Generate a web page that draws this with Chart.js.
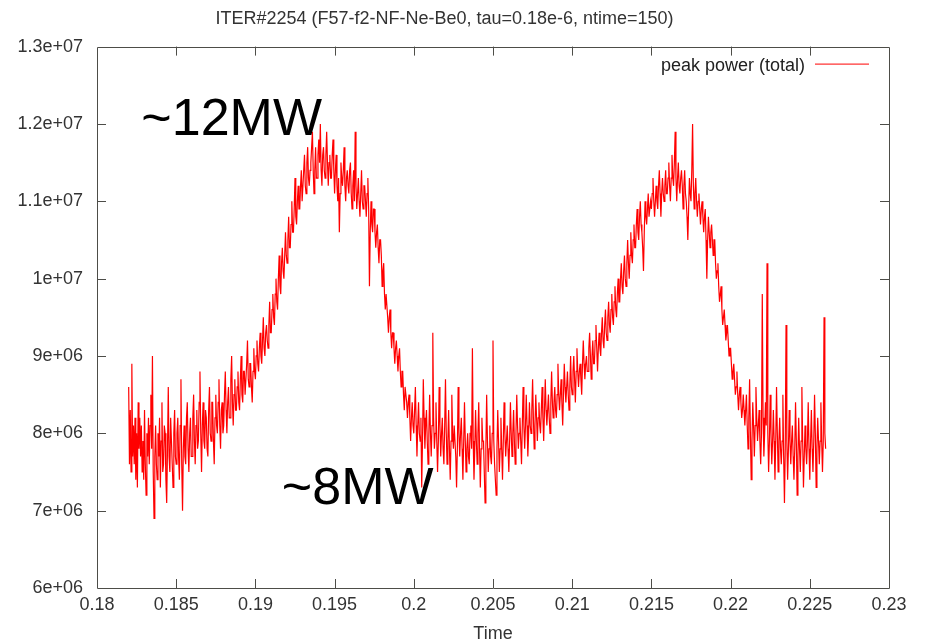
<!DOCTYPE html>
<html>
<head>
<meta charset="utf-8">
<title>ITER#2254 peak power</title>
<script src="https://cdn.jsdelivr.net/npm/chart.js@4.4.1/dist/chart.umd.min.js"></script>
<style>
    html, body { margin: 0; padding: 0; background: #ffffff; }
    #powerChart { display: block; }
</style>
</head>
<body>
<canvas id="powerChart" width="926" height="641"></canvas>
<script>
// Sampling of the trace (s)
const timeStart = 0.182;
const timeStep = 0.00005;

// Peak power (total), in MW, one row per 1 ms
const peakPowerMW = [
    8.6, 7.6, 8.3, 7.5, 8.9, 7.7, 8.1, 7.6, 8.2, 7.4, 8.0, 7.3, 8.4, 7.8, 8.2, 7.7, 8.1, 7.5, 7.9, 7.4,
    8.3, 7.6, 7.2, 8.0, 7.7, 8.2, 7.6, 8.1, 8.5, 7.8, 9.0, 7.5, 6.9, 7.7, 8.1, 7.6, 7.4, 8.0, 7.7, 8.2,
    7.3, 7.9, 8.4, 7.5, 7.6, 8.1, 8.0, 7.4, 7.1, 7.8, 8.6, 7.7, 7.5, 8.2, 7.9, 7.6, 7.3, 8.0, 8.3, 7.7,
    7.6, 8.0, 8.2, 7.7, 7.4, 8.1, 8.7, 7.6, 7.0, 7.8, 8.1, 7.7, 7.6, 8.2, 8.4, 7.8, 7.5, 8.0, 8.2, 7.7,
    7.7, 8.2, 8.5, 7.9, 7.6, 8.1, 8.3, 7.8, 7.9, 8.4, 8.8, 8.0, 7.5, 8.1, 8.4, 7.9, 7.8, 8.3, 8.2, 7.8,
    7.7, 8.3, 8.6, 8.0, 7.9, 8.4, 8.4, 7.9, 7.6, 8.2, 8.5, 8.1, 8.0, 8.4, 8.7, 8.1, 7.8, 8.3, 8.4, 8.0,
    8.1, 8.5, 8.8, 8.3, 8.0, 8.4, 8.6, 8.2, 8.2, 8.7, 9.0, 8.4, 8.1, 8.5, 8.7, 8.3, 8.3, 8.6, 8.8, 8.4,
    8.3, 8.7, 9.0, 8.5, 8.4, 8.8, 8.8, 8.5, 8.5, 8.9, 9.2, 8.7, 8.6, 8.9, 8.9, 8.6, 8.4, 8.8, 9.1, 8.8,
    8.7, 9.0, 9.2, 8.9, 8.8, 9.1, 9.3, 9.0, 8.9, 9.2, 9.5, 9.1, 9.0, 9.3, 9.4, 9.2, 9.1, 9.4, 9.7, 9.3,
    9.3, 9.6, 9.8, 9.5, 9.4, 9.8, 10.0, 9.7, 9.6, 10.0, 10.3, 9.9, 9.8, 10.2, 10.4, 10.1, 10.0, 10.3, 10.6, 10.3,
    10.2, 10.5, 10.8, 10.4, 10.4, 10.7, 11.0, 10.6, 10.6, 10.9, 11.3, 10.8, 10.7, 11.0, 11.2, 10.9, 10.9, 11.2, 11.4, 11.0,
    11.0, 11.4, 11.6, 11.2, 11.1, 11.5, 11.7, 11.3, 11.2, 11.4, 11.5, 11.7, 11.9, 11.4, 11.1, 11.4, 11.7, 11.3, 11.3, 11.6,
    11.8, 11.5, 12.0, 11.4, 11.2, 11.6, 11.7, 11.4, 11.3, 11.6, 11.9, 11.5, 11.2, 11.5, 11.6, 11.3, 11.3, 11.6, 11.8, 11.4,
    11.1, 11.4, 11.6, 11.2, 11.0, 11.3, 10.6, 11.1, 11.5, 11.3, 11.2, 11.4, 11.7, 11.2, 11.0, 11.3, 11.4, 11.2, 11.1, 11.4,
    11.5, 11.1, 10.9, 11.2, 11.4, 11.0, 11.9, 11.2, 10.9, 11.1, 11.3, 11.0, 10.8, 11.1, 11.4, 11.0, 10.9, 11.2, 11.2, 11.0,
    10.8, 11.1, 11.3, 10.9, 9.9, 10.6, 11.0, 10.7, 10.6, 10.9, 10.9, 10.6, 10.4, 10.6, 10.7, 10.4, 10.2, 10.5, 10.5, 10.3,
    9.9, 10.1, 10.2, 9.8, 9.6, 9.8, 9.8, 9.5, 9.3, 9.5, 9.6, 9.3, 9.1, 9.3, 9.3, 9.1, 8.9, 9.1, 9.2, 9.0,
    8.8, 9.0, 9.1, 8.8, 8.6, 8.8, 8.8, 8.5, 8.3, 8.6, 8.6, 8.4, 8.2, 8.4, 8.5, 8.2, 7.9, 8.2, 8.4, 8.1,
    8.0, 8.3, 8.6, 8.1, 7.7, 8.1, 8.4, 8.0, 7.9, 8.2, 7.3, 7.9, 8.7, 8.2, 7.8, 8.1, 8.3, 7.9, 7.6, 8.0,
    8.5, 8.0, 7.7, 8.1, 9.3, 8.2, 7.8, 8.0, 8.4, 7.9, 7.5, 7.9, 8.6, 8.1, 7.7, 8.0, 8.2, 7.8, 7.6, 8.1,
    8.7, 8.0, 7.6, 7.9, 8.3, 7.8, 7.4, 7.9, 8.5, 8.0, 7.8, 8.1, 8.1, 7.7, 7.3, 7.8, 8.6, 8.0, 7.7, 8.0,
    8.2, 7.8, 7.4, 7.9, 8.4, 7.9, 7.5, 7.8, 8.0, 7.7, 7.6, 8.0, 8.1, 7.8, 9.1, 7.9, 7.4, 7.8, 8.3, 7.9,
    7.6, 8.0, 8.4, 7.8, 7.3, 7.8, 8.2, 7.9, 7.9, 7.5, 7.1, 7.8, 8.5, 7.9, 7.5, 7.8, 8.1, 7.7, 7.6, 8.0,
    9.2, 7.9, 7.6, 7.4, 7.2, 7.8, 8.3, 7.9, 7.5, 7.8, 8.2, 7.8, 7.4, 7.9, 8.4, 8.0, 7.7, 7.9, 8.1, 7.8,
    7.5, 7.9, 8.4, 8.0, 7.7, 8.0, 8.3, 7.9, 7.6, 8.0, 8.5, 8.1, 7.8, 8.0, 8.2, 7.9, 7.6, 8.1, 8.6, 8.1,
    7.8, 8.1, 8.5, 8.1, 7.7, 8.0, 8.4, 8.1, 8.0, 8.3, 8.7, 8.2, 7.8, 8.1, 8.5, 8.2, 7.9, 8.2, 8.4, 8.1,
    8.0, 8.3, 8.6, 8.2, 7.9, 8.3, 8.7, 8.3, 8.1, 8.3, 8.5, 8.2, 8.0, 8.4, 8.8, 8.4, 8.2, 8.4, 8.6, 8.3,
    8.2, 8.5, 8.9, 8.5, 8.3, 8.5, 8.7, 8.4, 8.1, 8.5, 8.9, 8.6, 8.4, 8.6, 8.8, 8.5, 8.3, 8.6, 9.0, 8.6,
    8.5, 8.8, 9.0, 8.7, 8.4, 8.8, 9.1, 8.8, 8.6, 8.8, 8.9, 8.7, 8.5, 8.9, 9.2, 8.9, 8.7, 8.9, 9.0, 8.8,
    8.8, 9.1, 9.3, 9.0, 8.7, 9.0, 9.2, 8.9, 8.9, 9.2, 9.4, 9.1, 8.8, 9.1, 9.3, 9.1, 9.0, 9.3, 9.5, 9.2,
    9.1, 9.4, 9.6, 9.3, 9.2, 9.5, 9.7, 9.4, 9.3, 9.6, 9.8, 9.5, 9.4, 9.7, 9.9, 9.6, 9.5, 9.8, 10.0, 9.7,
    9.7, 10.0, 10.2, 9.9, 9.8, 10.1, 10.3, 10.0, 9.9, 10.2, 10.5, 10.2, 10.0, 10.3, 10.6, 10.3, 10.2, 10.5, 10.7, 10.4,
    10.4, 10.7, 10.9, 10.6, 10.5, 10.8, 11.0, 10.7, 10.6, 10.4, 10.1, 10.6, 11.0, 10.8, 10.7, 10.9, 11.1, 10.8, 10.8, 11.0,
    10.9, 11.1, 11.3, 11.0, 10.8, 11.0, 11.2, 11.0, 10.9, 11.2, 11.4, 11.1, 10.8, 11.1, 11.3, 11.1, 11.0, 11.2, 11.4, 11.1,
    11.1, 11.3, 11.5, 11.2, 11.0, 11.3, 11.6, 11.3, 11.2, 11.5, 11.9, 11.3, 11.0, 11.3, 11.5, 11.2, 11.1, 11.3, 11.4, 11.2,
    10.9, 11.2, 11.4, 11.1, 11.0, 10.8, 10.5, 10.9, 11.3, 11.1, 11.0, 11.4, 12.0, 11.2, 10.9, 11.1, 11.3, 11.0, 10.8, 11.0,
    11.1, 10.9, 10.7, 10.9, 11.0, 10.8, 10.6, 10.8, 10.9, 10.5, 10.0, 10.5, 10.8, 10.6, 10.4, 10.6, 10.7, 10.5, 10.3, 10.5,
    10.5, 10.2, 10.0, 10.1, 10.2, 9.9, 9.7, 9.8, 9.9, 9.6, 9.4, 9.5, 9.6, 9.4, 9.2, 9.3, 9.4, 9.2, 9.0, 9.1,
    9.1, 8.9, 8.7, 8.8, 8.9, 8.7, 8.5, 8.6, 8.8, 8.5, 8.3, 8.5, 8.6, 8.4, 8.2, 8.3, 8.5, 8.3, 8.1, 8.3,
    8.5, 8.1, 7.8, 8.2, 8.7, 8.0, 7.4, 7.9, 8.4, 8.1, 7.7, 8.1, 8.6, 8.2, 7.9, 8.1, 8.3, 7.9, 7.6, 8.0,
    9.8, 8.2, 7.7, 8.0, 8.4, 8.1, 10.2, 8.0, 7.5, 7.9, 8.5, 8.0, 7.6, 7.9, 8.3, 7.9, 7.4, 7.9, 8.6, 8.0,
    7.5, 7.9, 8.2, 7.8, 7.6, 7.9, 8.5, 7.7, 7.1, 7.8, 9.4, 7.9, 7.4, 7.8, 8.3, 7.9, 7.6, 7.9, 8.1, 7.7,
    7.4, 7.8, 8.4, 7.9, 7.2, 7.7, 8.2, 7.8, 7.5, 7.9, 8.6, 7.9, 7.3, 7.7, 8.1, 7.8, 7.6, 7.9, 8.4, 7.8,
    7.4, 7.9, 8.3, 7.8, 7.5, 7.9, 8.5, 8.0, 7.3, 7.8, 8.2, 7.9, 7.6, 7.9, 8.4, 7.9, 7.5, 7.9, 9.5, 8.0,
    7.8
];

// Axis ranges and tick steps
const xTicks = { min: 0.18, max: 0.23, step: 0.005 };
const yTicks = { min: 6e6, max: 1.3e7, step: 1e6 };

// Hand-written notes on the plot: [text, time, power at baseline]
const notes = [
    ['~12MW', 0.1828, 1.186e7],
    ['~8MW', 0.19167, 7.09e6]
];

const titleText = 'ITER#2254 (F57-f2-NF-Ne-Be0, tau=0.18e-6, ntime=150)';
const legendText = 'peak power (total)';

const points = peakPowerMW.map((v, i) => ({
    x: timeStart + i * timeStep,
    y: v * 1e6
}));

const fontFamily = '"Liberation Sans", Arial, sans-serif';
const textColor = '#333333';
const frameColor = '#4d4d48';

// gnuplot-like %g labels: 1.3e+07, 1e+07, 9e+06
function expLabel(v) {
    return Number(v).toExponential().replace(/e([+-])(\d)$/, 'e$10$2');
}

// frame with inward ticks on all four sides, legend and notes
const gnuplotFrame = {
    id: 'gnuplotFrame',
    afterDraw(chart) {
        const ctx = chart.ctx;
        const a = chart.chartArea;
        const xs = chart.scales.x;
        const ys = chart.scales.y;
        const tick = 9;
        ctx.save();
        ctx.strokeStyle = frameColor;
        ctx.lineWidth = 1;
        ctx.beginPath();
        ctx.rect(Math.round(a.left) + 0.5, Math.round(a.top) + 0.5,
            Math.round(a.right - a.left), Math.round(a.bottom - a.top));
        xs.ticks.forEach(t => {
            if (t.value <= xs.min || t.value >= xs.max) return;
            const px = Math.round(xs.getPixelForValue(t.value)) + 0.5;
            ctx.moveTo(px, a.bottom);
            ctx.lineTo(px, a.bottom - tick);
            ctx.moveTo(px, a.top);
            ctx.lineTo(px, a.top + tick);
        });
        ys.ticks.forEach(t => {
            if (t.value <= ys.min || t.value >= ys.max) return;
            const py = Math.round(ys.getPixelForValue(t.value)) + 0.5;
            ctx.moveTo(a.left, py);
            ctx.lineTo(a.left + tick, py);
            ctx.moveTo(a.right, py);
            ctx.lineTo(a.right - tick, py);
        });
        ctx.stroke();

        // legend, gnuplot style: text then line sample
        ctx.font = '18px ' + fontFamily;
        ctx.fillStyle = '#222222';
        ctx.textAlign = 'right';
        ctx.textBaseline = 'middle';
        ctx.fillText(legendText, a.right - 84, a.top + 19);
        ctx.strokeStyle = '#ff0000';
        ctx.beginPath();
        ctx.moveTo(a.right - 74, a.top + 17.5);
        ctx.lineTo(a.right - 20, a.top + 17.5);
        ctx.stroke();

        // notes
        ctx.font = '52px ' + fontFamily;
        ctx.fillStyle = '#000000';
        ctx.textAlign = 'left';
        ctx.textBaseline = 'alphabetic';
        notes.forEach(n => {
            ctx.fillText(n[0], xs.getPixelForValue(n[1]), ys.getPixelForValue(n[2]));
        });
        ctx.restore();
    }
};

// Peak power chart
const ctx = document.getElementById('powerChart').getContext('2d');
const powerChart = new Chart(ctx, {
    type: 'line',
    data: {
        datasets: [{
            label: legendText,
            data: points,
            borderColor: '#ff0000',
            borderWidth: 1.2,
            pointRadius: 0,
            tension: 0,
            fill: false
        }]
    },
    options: {
        responsive: false,
        animation: false,
        layout: {
            padding: { left: 0, right: 37, top: 0, bottom: 0 }
        },
        plugins: {
            legend: { display: false },
            tooltip: { enabled: false },
            title: {
                display: true,
                text: titleText,
                color: textColor,
                font: { family: fontFamily, size: 18, weight: 'normal' },
                padding: { top: 8, bottom: 17 }
            }
        },
        scales: {
            x: {
                type: 'linear',
                min: xTicks.min,
                max: xTicks.max,
                grid: { display: false, drawTicks: false },
                border: { display: false },
                afterFit: scale => { scale.height = 53; },
                ticks: {
                    stepSize: xTicks.step,
                    padding: 6,
                    maxRotation: 0,
                    autoSkip: false,
                    color: textColor,
                    font: { family: fontFamily, size: 18 },
                    callback: v => String(Number(v.toFixed(3)))
                },
                title: {
                    display: true,
                    text: 'Time',
                    color: textColor,
                    font: { family: fontFamily, size: 18 },
                    padding: { top: 0, bottom: -4 }
                }
            },
            y: {
                min: yTicks.min,
                max: yTicks.max,
                grid: { display: false, drawTicks: false },
                border: { display: false },
                afterFit: scale => { scale.width = 97; },
                ticks: {
                    stepSize: yTicks.step,
                    padding: 14,
                    autoSkip: false,
                    color: textColor,
                    font: { family: fontFamily, size: 18 },
                    callback: v => expLabel(v)
                }
            }
        }
    },
    plugins: [gnuplotFrame]
});
</script>
</body>
</html>
